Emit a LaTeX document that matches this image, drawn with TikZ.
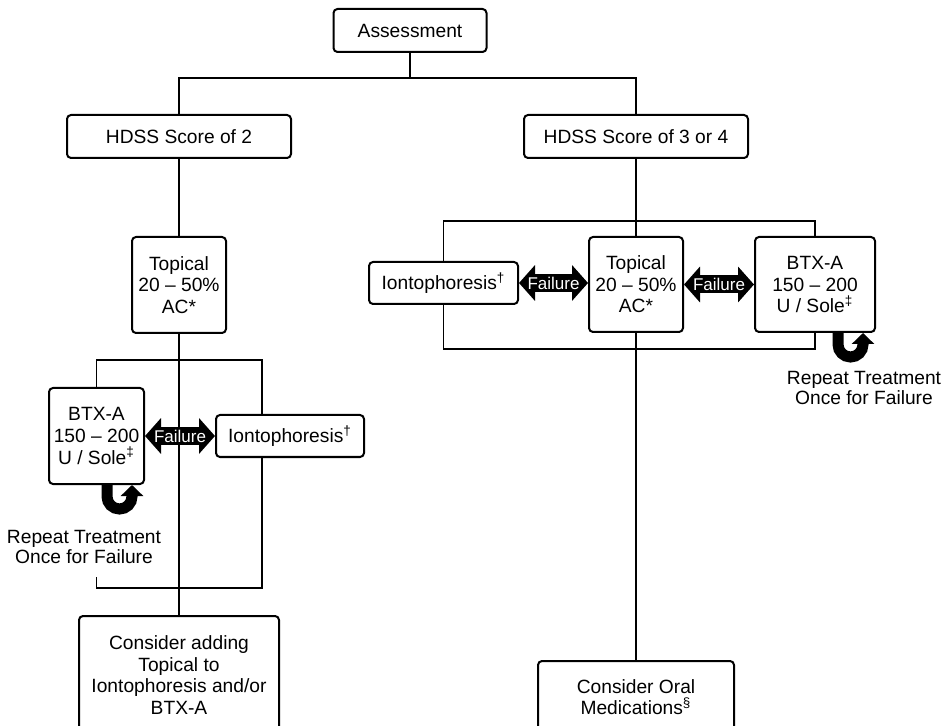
\documentclass[tikz,border=0pt]{standalone}
\usepackage{fontspec}
\setmainfont{Liberation Sans}
\usetikzlibrary{arrows.meta}
\tikzset{
  box/.style={draw, line width=1pt, rounded corners=2pt, align=center, inner sep=0pt,
    font=\fontsize{9.6}{10.8}\selectfont},
  note/.style={align=center, inner sep=0pt, font=\fontsize{9.6}{10.2}\selectfont},
  link/.style={line width=0.9pt},
  failure/.style={line width=9pt, {Triangle[length=8pt,width=17.5pt]}-{Triangle[length=8pt,width=17.5pt]}},
  failtext/.style={text=white, inner sep=0pt, font=\fontsize{8.5}{9}\selectfont},
  repeatarrow/.style={line width=5.5pt, -{Triangle[length=5.5pt,width=11pt]}}
}
\begin{document}
\begin{tikzpicture}[x=0.5pt, y=0.5pt]
        \useasboundingbox (0,0) rectangle (941,-726);
        \clip (0,0) rectangle (941,-726);

        % Top of the tree
        \node[box, minimum width=76.5pt, minimum height=21.5pt] (assess) at (410,-30.5) {Assessment};
        \node[box, minimum width=112pt, minimum height=21.5pt] (hdss2) at (179,-136.5) {HDSS Score of 2};
        \node[box, minimum width=112pt, minimum height=21.5pt] (hdss34) at (636,-136.5) {HDSS Score of 3 or 4};
        \coordinate (split) at (410,-78);
        \draw[link] (assess) -- (split);
        \draw[link] (hdss2) -- (hdss2 |- split) -- (hdss34 |- split) -- (hdss34);

        % Left branch
        \node[box, minimum width=47pt, minimum height=48pt] (topL) at (179,-285) {Topical\\20 -- 50\%\\AC*};
        \node[box, minimum width=47.5pt, minimum height=48pt] (btxL) at (96.5,-436) {BTX-A\\150 -- 200\\U / Sole\textsuperscript{‡}};
        \node[box, minimum width=74pt, minimum height=21pt] (iontL) at (290,-436) {Iontophoresis\textsuperscript{†}};
        \node[box, minimum width=100pt, minimum height=59pt] (addL) at (179,-675) {Consider adding\\Topical to\\Iontophoresis and/or\\BTX-A};
        \node[note] (rptL) at (84,-547) {Repeat Treatment\\Once for Failure};
        \coordinate (ltop) at (262,-360);
        \coordinate (lbot) at (262,-588);
        \draw[link] (hdss2) -- (topL);
        \draw[link] (topL) -- (addL);
        \draw[link] (btxL) -- (btxL |- ltop) -- (ltop) -- (ltop |- iontL.north);
        \draw[link] (lbot |- iontL.south) -- (lbot) -- (lbot -| btxL) -- ++(0,11);
        \draw[failure] (btxL) -- node[failtext] (failL) {Failure} (iontL);
        \draw[repeatarrow] ([xshift=-19pt]btxL.south east) -- ++(0,-11.5)
            arc[start angle=180, end angle=360, radius=12.5] -- ++(0,11.5);

        % Right branch
        \node[box, minimum width=47pt, minimum height=47.5pt] (topR) at (636,-284.5) {Topical\\20 -- 50\%\\AC*};
        \node[box, minimum width=74.5pt, minimum height=21pt] (iontR) at (443.5,-283) {Iontophoresis\textsuperscript{†}};
        \node[box, minimum width=60pt, minimum height=47.5pt] (btxR) at (815,-284.5) {BTX-A\\150 -- 200\\U / Sole\textsuperscript{‡}};
        \node[box, minimum width=98pt, minimum height=36pt] (oral) at (636,-697) {Consider Oral\\Medications\textsuperscript{§}};
        \node[note] (rptR) at (864,-388) {Repeat Treatment\\Once for Failure};
        \coordinate (rtop) at (636,-221);
        \coordinate (rbot) at (636,-349);
        \draw[link] (hdss34) -- (topR);
        \draw[link] (topR) -- (oral);
        \draw[link] (iontR) -- (iontR |- rtop) -- (btxR |- rtop) -- (btxR);
        \draw[link] (iontR) -- (iontR |- rbot) -- (btxR |- rbot) -- (btxR);
        \draw[failure] (iontR.east) -- node[failtext] (failR1) {Failure} (iontR.east -| topR.west);
        \draw[failure] (topR.east) -- node[failtext] (failR2) {Failure} (btxR.west);
        \draw[repeatarrow] ([xshift=-19pt]btxR.south east) -- ++(0,-11.5)
            arc[start angle=180, end angle=360, radius=12.5] -- ++(0,11.5);
\end{tikzpicture}
\end{document}
